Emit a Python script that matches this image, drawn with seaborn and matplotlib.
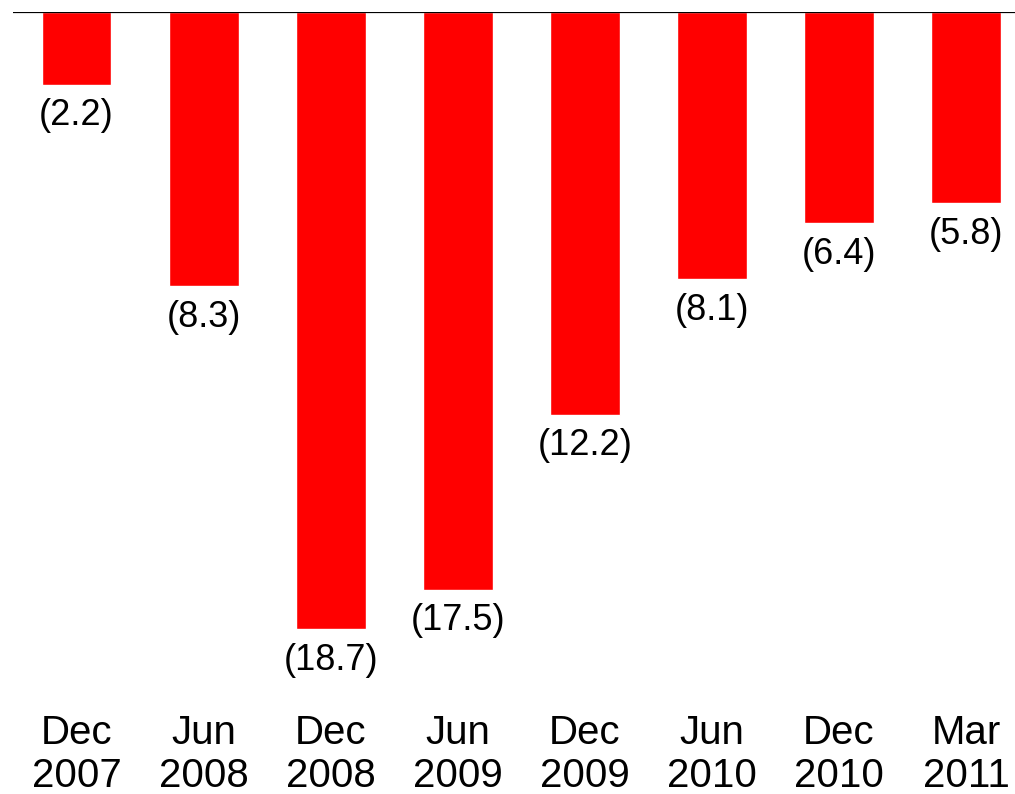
import matplotlib
matplotlib.use("Agg")
import matplotlib.pyplot as plt
import seaborn as sns
import pandas as pd

# Period labels and the change recorded for each period
periods = ["Dec\n2007", "Jun\n2008", "Dec\n2008", "Jun\n2009",
           "Dec\n2009", "Jun\n2010", "Dec\n2010", "Mar\n2011"]
changes = [-2.2, -8.3, -18.7, -17.5, -12.2, -8.1, -6.4, -5.8]

sns.set_theme(style="white")
plt.rcParams["font.family"] = ["Liberation Sans", "DejaVu Sans"]

df = pd.DataFrame({"period": periods, "change": changes})

fig = plt.figure(figsize=(10.15, 7.94), dpi=100)
ax = fig.add_axes([13 / 1015, 1 - 695 / 794, 1 - 13 / 1015, 683 / 794])

sns.barplot(data=df, x="period", y="change", color="#ff0000",
            saturation=1, width=0.55, ax=ax)

# Negative values shown in accounting style below each bar
labels = [f"({abs(v):.1f})" for v in changes]
ax.bar_label(ax.containers[0], labels=labels, padding=10, fontsize=26,
             color="black")

ax.axhline(0, color="black", linewidth=1.6)
ax.set_ylim(-683 / 33, 0)
ax.set_xlim(-0.5, 7.386)

for side in ["top", "right", "bottom", "left"]:
    ax.spines[side].set_visible(False)

ax.set_xlabel("")
ax.set_ylabel("")
ax.set_yticks([])
ax.tick_params(axis="x", length=0, pad=14, labelsize=29)
for t in ax.get_xticklabels():
    t.set_linespacing(1.16)
    t.set_color("black")

fig.savefig("out.png", dpi=100)
